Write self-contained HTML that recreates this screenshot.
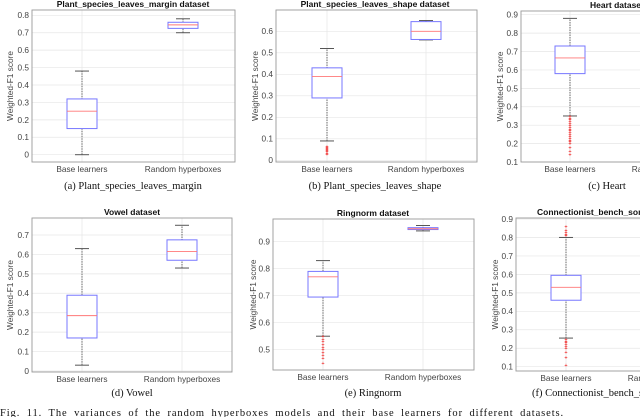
<!DOCTYPE html>
<html><head><meta charset="utf-8"><style>
html,body{margin:0;padding:0;background:#fff;width:640px;height:417px;overflow:hidden}
svg{display:block}
.tk{font-family:"Liberation Sans",sans-serif;font-size:8.3px;fill:#444}
.tt{font-family:"Liberation Sans",sans-serif;font-size:8.5px;font-weight:bold;fill:#111}
.cap{font-family:"Liberation Serif",serif;font-size:10.5px;fill:#111}
</style></head><body>
<svg id="fig" width="640" height="417" viewBox="0 0 640 417"></svg>
<script>
// ---- data (one set of arrays per panel) ----
const categories = ["Base learners", "Random hyperboxes"];
const titles = ["Plant_species_leaves_margin dataset","Plant_species_leaves_shape dataset","Heart dataset","Vowel dataset","Ringnorm dataset","Connectionist_bench_sonar dataset"];
const captions = ["(a) Plant_species_leaves_margin","(b) Plant_species_leaves_shape","(c) Heart","(d) Vowel","(e) Ringnorm","(f) Connectionist_bench_sonar"];
const tickA = [0,0.1,0.2,0.3,0.4,0.5,0.6,0.7,0.8];
const tickB = [0,0.1,0.2,0.3,0.4,0.5,0.6];
const tickC = [0.1,0.2,0.3,0.4,0.5,0.6,0.7,0.8,0.9];
const tickD = [0,0.1,0.2,0.3,0.4,0.5,0.6,0.7];
const tickE = [0.5,0.6,0.7,0.8,0.9];
const tickF = [0.1,0.2,0.3,0.4,0.5,0.6,0.7,0.8,0.9];
// [whiskerLow, q1, median, q3, whiskerHigh] for [base, random]
const statsA = [[0,0.15,0.25,0.32,0.48],[0.70,0.725,0.745,0.76,0.78]];
const statsB = [[0.09,0.29,0.39,0.43,0.52],[0.56,0.562,0.60,0.645,0.65]];
const statsC = [[0.35,0.58,0.665,0.73,0.88],[0.74,0.78,0.80,0.82,0.86]];
const statsD = [[0.03,0.17,0.285,0.39,0.63],[0.53,0.57,0.615,0.675,0.75]];
const statsE = [[0.55,0.695,0.77,0.79,0.83],[0.94,0.945,0.948,0.952,0.96]];
const statsF = [[0.255,0.46,0.53,0.595,0.80],[0.70,0.74,0.76,0.78,0.82]];
const outA = [[],[]];
const outB = [[0.03,0.035,0.04,0.045,0.05,0.055,0.06,0.065],[]];
const outC = [[0.14,0.16,0.18,0.2,0.21,0.22,0.23,0.24,0.25,0.26,0.27,0.28,0.29,0.3,0.31,0.32,0.33,0.34,0.35],[]];
const outD = [[],[]];
const outE = [[0.45,0.47,0.48,0.49,0.5,0.51,0.52,0.53,0.54,0.55],[]];
const outF = [[0.11,0.15,0.18,0.2,0.21,0.22,0.23,0.24,0.25,0.81,0.82,0.83,0.84,0.86],[]];

// ---- layout (pixel geometry) ----
const panels = [
 {x0:32,x1:235,y0:10,y1:162,t1:0.8,p1:15.3,t0:0,p0:154.7,cx:[82,183],ytx:10,ticks:tickA,stats:statsA,out:outA},
 {x0:276,x1:477,y0:10,y1:162,t1:0.6,p1:31.3,t0:0,p0:160.3,cx:[327,426],ytx:255,ticks:tickB,stats:statsB,out:outB},
 {x0:521,x1:721,y0:11,y1:162,t1:0.9,p1:14.7,t0:0.1,p0:162,cx:[570,670],ytx:500,ticks:tickC,stats:statsC,out:outC},
 {x0:32,x1:232,y0:218,y1:372,t1:0.7,p1:235,t0:0,p0:371,cx:[82,182],ytx:10,ticks:tickD,stats:statsD,out:outD},
 {x0:273,x1:474,y0:219,y1:370,t1:0.9,p1:241.7,t0:0.5,p0:349.7,cx:[323,423],ytx:253,ticks:tickE,stats:statsE,out:outE},
 {x0:516,x1:716,y0:218,y1:371,t1:0.9,p1:219,t0:0.1,p0:366.7,cx:[566,666],ytx:495,ticks:tickF,stats:statsF,out:outF}
];
const titleX=[133,375,590,132,373,537];
const titleAnchor=['middle','middle','start','middle','middle','start'];
const capY=[189,189,189,396,396,396];
const capX=[133,375,607,132,373,532];
const capAnchor=['middle','middle','middle','middle','middle','start'];
const NS="http://www.w3.org/2000/svg";
const svg=document.getElementById('fig');
function mk(tag,attrs,parent){const e=document.createElementNS(NS,tag);for(const k in attrs)e.setAttribute(k,attrs[k]);(parent||svg).appendChild(e);return e;}

panels.forEach((P,i)=>{
  const g=mk('g',{});
  
  
  const y=v=>P.p0+(v-P.t0)*(P.p1-P.p0)/(P.t1-P.t0);
  P.ticks.forEach(t=>{
    const l=mk('line',{x1:P.x0,x2:P.x1,y1:y(t),y2:y(t),stroke:'#e6e6e6','stroke-width':0.7},g);
    
    
    const tx=mk('text',{x:P.x0-3,y:y(t)+2.9,'text-anchor':'end',class:'tk'},g);
    tx.textContent=String(t);
    
    
  });
  P.cx.forEach(cx=>{
    if(cx<640){const l=mk('line',{x1:cx,x2:cx,y1:P.y0,y2:P.y1,stroke:'#e6e6e6','stroke-width':0.7},g);
    
    }
  });
  const ax=mk('rect',{x:P.x0,y:P.y0,width:P.x1-P.x0,height:P.y1-P.y0,fill:'none',stroke:'#999','stroke-width':0.9},g);
  
  
  P.stats.forEach((s,j)=>{
    const cx=P.cx[j], hw=15;
    const w=mk('line',{x1:cx,x2:cx,y1:y(s[0]),y2:y(s[4]),stroke:'#333','stroke-width':0.7,'stroke-dasharray':'1.5,1'},g);
    
    
    [s[0],s[4]].forEach(v=>{
      const c=mk('line',{x1:cx-7,x2:cx+7,y1:y(v),y2:y(v),stroke:'#555','stroke-width':1},g);
      
      
    });
    const b=mk('rect',{x:cx-hw,y:y(s[3]),width:2*hw,height:Math.max(0.8,y(s[1])-y(s[3])),fill:'#fff',stroke:'#7777ff','stroke-width':1},g);
    
    
    const m=mk('line',{x1:cx-hw,x2:cx+hw,y1:y(s[2]),y2:y(s[2]),stroke:'#ff7777','stroke-width':0.9},g);
    
    
    P.out[j].forEach(v=>{
      const o=mk('text',{x:cx,y:y(v)+2,'text-anchor':'middle','font-size':'5.5px','font-family':'Liberation Sans,sans-serif',fill:'#ee0000'},g);
      o.textContent='+';
      
      
    });
    const xl=mk('text',{x:cx,y:P.y1+10,'text-anchor':'middle',class:'tk'},g);
    xl.textContent=categories[j];
    
    
  });
  const yt=mk('text',{x:0,y:0,'text-anchor':'middle',class:'tk',transform:`translate(${P.ytx+3},${(P.y0+P.y1)/2}) rotate(-90)`},g);
  yt.textContent='Weighted-F1 score';
  
  
  const tt=mk('text',{x:titleX[i],y:P.y0-3,'text-anchor':titleAnchor[i],class:'tt'},g);
  tt.textContent=titles[i];
  
  
  const cp=mk('text',{x:capX[i],y:capY[i],'text-anchor':capAnchor[i],class:'cap'},g);
  cp.textContent=captions[i];
  
  
});
const fc=mk('text',{x:0,y:416,class:'cap','font-size':'11px','letter-spacing':'0.9','word-spacing':'3'});
fc.textContent='Fig. 11.   The variances of the random hyperboxes models and their base learners for different datasets.';


</script>
</body></html>
